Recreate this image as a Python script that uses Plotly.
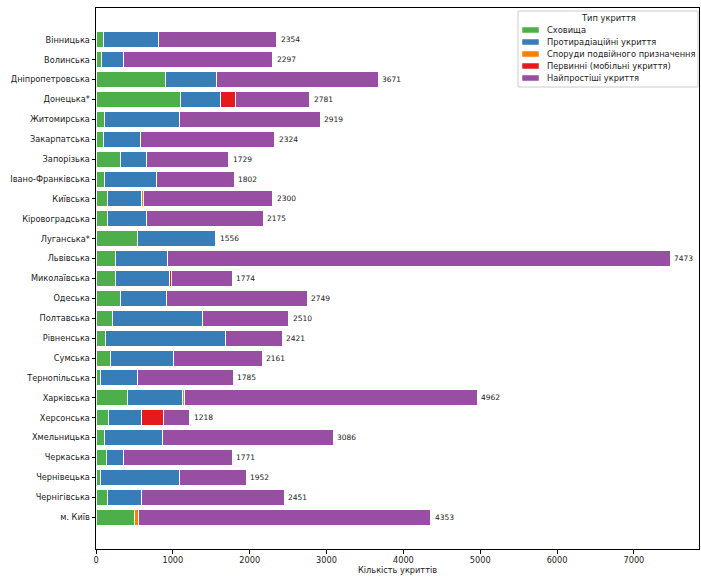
import plotly.graph_objects as go

regions = ["Вінницька", "Волинська", "Дніпропетровська", "Донецька*", "Житомирська",
           "Закарпатська", "Запорізька", "Івано-Франківська", "Київська", "Кіровоградська",
           "Луганська*", "Львівська", "Миколаївська", "Одеська", "Полтавська",
           "Рівненська", "Сумська", "Тернопільська", "Харківська", "Херсонська",
           "Хмельницька", "Черкаська", "Чернівецька", "Чернігівська", "м. Київ"]

shelters = [96, 78, 905, 1097, 117, 100, 313, 109, 144, 144, 544, 257, 257, 313, 209,
            122, 183, 61, 409, 157, 117, 139, 65, 144, 505]
anti_radiation = [718, 274, 666, 522, 975, 479, 344, 679, 448, 513, 1012, 679, 696, 605, 1175,
                  1566, 822, 474, 722, 430, 745, 218, 1027, 443, 0]
dual_purpose = [0, 0, 0, 0, 0, 0, 0, 0, 25, 0, 0, 0, 0, 0, 0,
                0, 0, 0, 20, 0, 0, 0, 0, 10, 45]
primary_mobile = [0, 0, 0, 196, 0, 0, 0, 0, 0, 0, 0, 0, 25, 0, 0,
                  0, 0, 0, 0, 288, 0, 0, 0, 0, 0]
simplest = [1540, 1945, 2100, 966, 1827, 1745, 1072, 1014, 1683, 1518, 0, 6537, 796, 1831, 1126,
            733, 1156, 1250, 3811, 343, 2224, 1414, 860, 1854, 3803]

series_names = ["Сховища", "Протирадіаційні укриття", "Споруди подвійного призначення",
                "Первинні (мобільні укриття)", "Найпростіші укриття"]
series_values = [shelters, anti_radiation, dual_purpose, primary_mobile, simplest]
colors = ["#4daf4a", "#377eb8", "#ff7f00", "#e41a1c", "#984ea3"]
legend_title = "Тип укриття"

totals = [sum(v) for v in zip(*series_values)]

W, H = 701, 582
L, R, T, B = 96, 2, 8, 33
PW, PH = W - L - R, H - T - B


def px(xp):
    return (xp - L) / PW


def py(yp):
    return (H - B - yp) / PH


fig = go.Figure()
for name, vals, col in zip(series_names, series_values, colors):
    fig.add_trace(go.Bar(
        y=regions, x=vals, name=name, orientation="h",
        marker=dict(color=col, line=dict(color="white", width=1)),
    ))

for r, t in zip(regions, totals):
    fig.add_annotation(x=t, y=r, text=str(t), showarrow=False, xanchor="left",
                       xshift=2, font=dict(size=7.5, color="#222"))

# matplotlib-style legend box
shapes = [dict(type="rect", xref="paper", yref="paper",
               x0=px(518), x1=px(698), y0=py(87), y1=py(11),
               fillcolor="rgba(255,255,255,0.8)", line=dict(color="#cccccc", width=1),
               layer="above")]
fig.add_annotation(xref="paper", yref="paper", x=px(608), y=py(18), text=legend_title,
                   showarrow=False, xanchor="center", yanchor="middle",
                   font=dict(size=8.3, color="#222"))
for i, (name, col) in enumerate(zip(series_names, colors)):
    yc = 30 + i * 12
    shapes.append(dict(type="rect", xref="paper", yref="paper",
                       x0=px(522), x1=px(539), y0=py(yc + 3), y1=py(yc - 3),
                       fillcolor=col, line=dict(color="white", width=0.5), layer="above"))
    fig.add_annotation(xref="paper", yref="paper", x=px(545), y=py(yc), text=name,
                       showarrow=False, xanchor="left", yanchor="middle",
                       font=dict(size=8.3, color="#222"))

font = "DejaVu Sans"
fig.update_layout(
    width=W, height=H,
    margin=dict(l=L, r=R, t=T, b=B),
    barmode="stack", bargap=0.2,
    plot_bgcolor="white", paper_bgcolor="white",
    font=dict(family=font, size=8.2, color="#222"),
    showlegend=False,
    shapes=shapes,
    xaxis=dict(
        range=[0, 7847], tickvals=[0, 1000, 2000, 3000, 4000, 5000, 6000, 7000],
        showgrid=False, zeroline=False, showline=True, linecolor="black", linewidth=1,
        mirror=True, ticks="outside", ticklen=3.5, tickcolor="black",
        title=dict(text="Кількість укриттів", standoff=2, font=dict(size=8.2)),
    ),
    yaxis=dict(
        categoryorder="array", categoryarray=regions,
        range=[24 + 1.6, -1.6],
        showgrid=False, zeroline=False, showline=True, linecolor="black", linewidth=1,
        mirror=True, ticks="outside", ticklen=3.5, tickcolor="black",
    ),
)

fig.write_html("out.html")
